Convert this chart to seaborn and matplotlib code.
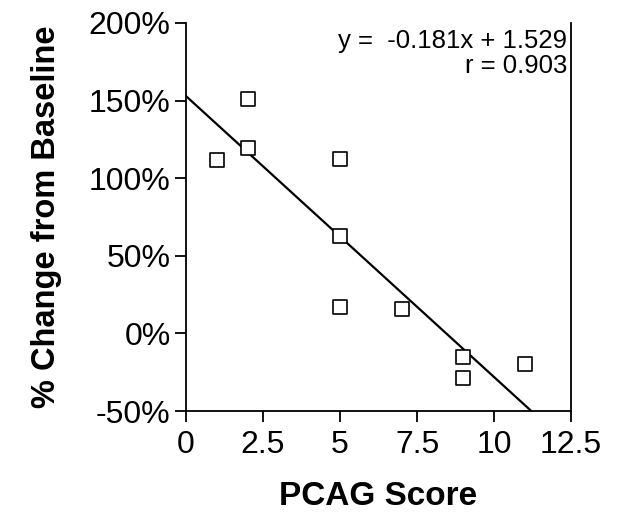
import matplotlib
matplotlib.use("Agg")
import matplotlib.pyplot as plt
import seaborn as sns
import numpy as np
import pandas as pd
from matplotlib.ticker import FuncFormatter

# Data
pcag_score = [1, 2, 2, 5, 5, 5, 7, 9, 9, 11]
pct_change = [1.12, 1.51, 1.195, 1.125, 0.63, 0.17, 0.16, -0.15, -0.29, -0.20]

slope = -0.181
intercept = 1.529
r_value = 0.903

x_ticks = [0, 2.5, 5, 7.5, 10, 12.5]
x_tick_labels = ["0", "2.5", "5", "7.5", "10", "12.5"]
y_ticks = [-0.5, 0.0, 0.5, 1.0, 1.5, 2.0]

sns.set_theme(style="ticks")
plt.rcParams['font.family'] = ['Liberation Sans', 'DejaVu Sans']
plt.rcParams['text.color'] = 'black'
plt.rcParams['axes.labelcolor'] = 'black'

fig = plt.figure(figsize=(6.19, 5.13), dpi=100)
ax = fig.add_axes([0.3005, 0.1988, 0.6220, 0.7564])

df = pd.DataFrame({"x": pcag_score, "y": pct_change})

# fitted line from x=0 to where it reaches the lower axis limit
y_min, y_max = -0.5, 2.0
x_end = (y_min - intercept) / slope
fit = pd.DataFrame({"x": [0.0, x_end]})
fit["y"] = slope * fit["x"] + intercept
sns.lineplot(data=fit, x="x", y="y", ax=ax, color="black", linewidth=1.6)

sns.scatterplot(data=df, x="x", y="y", ax=ax, marker="s", s=95,
                facecolor="white", edgecolor="black", linewidth=1.2, zorder=3)

ax.set_xlim(0, 12.5)
ax.set_ylim(y_min, y_max)
ax.set_xticks(x_ticks)
ax.set_xticklabels(x_tick_labels)
ax.set_yticks(y_ticks)
ax.yaxis.set_major_formatter(FuncFormatter(lambda v, p: f"{v*100:.0f}%"))

for s in ["left", "bottom", "right"]:
    ax.spines[s].set_linewidth(1.3)
    ax.spines[s].set_color("black")
ax.spines["top"].set_visible(False)

ax.tick_params(axis="both", direction="out", length=8, width=1.3, colors="black",
               labelsize=23, labelcolor="black")
ax.tick_params(axis="x", pad=6)
ax.tick_params(axis="y", pad=3)

ax.set_xlabel("PCAG Score", fontsize=24, fontweight="bold", labelpad=15, color="black")
ax.set_ylabel("% Change from Baseline", fontsize=23.5, fontweight="bold", labelpad=19,
              color="black")

ax.text(0.99, 0.985, f"y =  {slope:.3f}x + {intercept:.3f}\nr = {r_value:.3f}",
        transform=ax.transAxes, ha="right", va="top", fontsize=18.5,
        linespacing=1.05, color="black")

fig.savefig("out.png", dpi=100)
